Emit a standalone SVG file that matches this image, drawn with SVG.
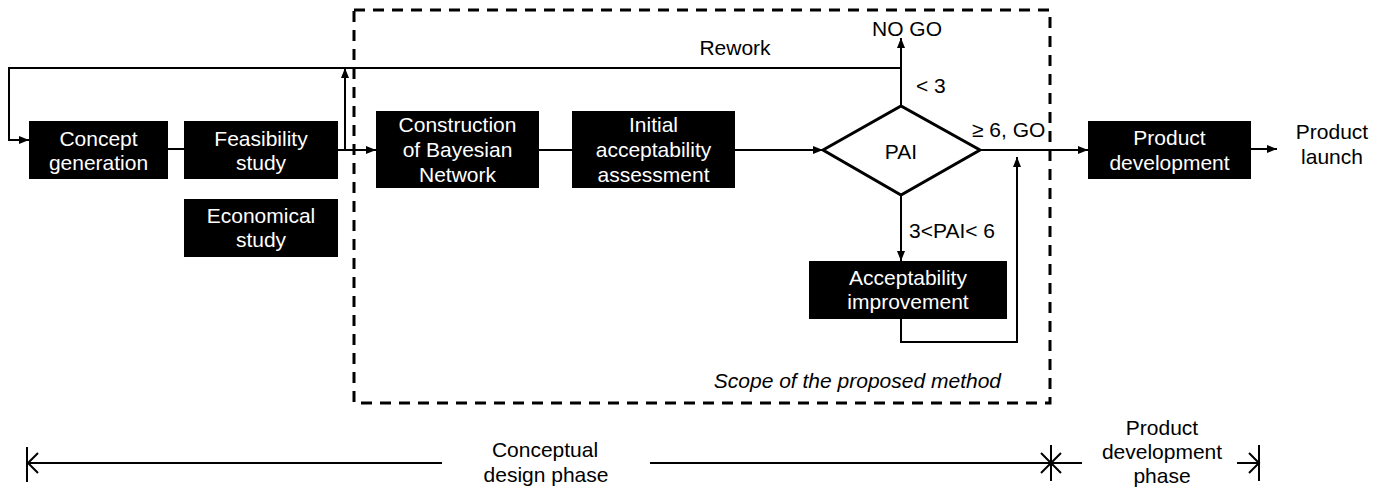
<svg xmlns="http://www.w3.org/2000/svg" width="1386" height="492" viewBox="0 0 1386 492">
<defs>
<marker id="arr" markerWidth="10" markerHeight="8" refX="10" refY="4" orient="auto" markerUnits="userSpaceOnUse">
<path d="M0,0 L10,4 L0,8 Z" fill="#000"/>
</marker>
<style>
.box{fill:#000;}
.bt{font-family:"Liberation Sans",Arial,sans-serif;font-size:21px;fill:#fff;text-anchor:middle;}
.t{font-family:"Liberation Sans",Arial,sans-serif;font-size:21px;fill:#000;}
.c{text-anchor:middle;}
.ln{fill:none;stroke:#000;stroke-width:2;}
.dim{fill:none;stroke:#000;stroke-width:2;}
</style>
</defs>
<rect width="1386" height="492" fill="#fff"/>

<g id="scope">
<rect x="354" y="10" width="696" height="393" fill="none" stroke="#000" stroke-width="3" stroke-dasharray="11,8"/>
<text class="t" x="1001" y="388" text-anchor="end" font-style="italic" font-size="21.5px">Scope of the proposed method</text>
</g>

<g id="connectors">
<path class="ln" d="M901,106 L901,38" marker-end="url(#arr)"/>
<path class="ln" d="M901,68 L9,68 L9,140 L29,140" marker-end="url(#arr)"/>
<path class="ln" d="M168,149 L184,149"/>
<path class="ln" d="M338,150 L376,150" marker-end="url(#arr)"/>
<path class="ln" d="M345,150 L345,68" marker-end="url(#arr)"/>
<path class="ln" d="M539,150 L572,150"/>
<path class="ln" d="M735,150 L823,150" marker-end="url(#arr)"/>
<path class="ln" d="M980,150 L1088,150" marker-end="url(#arr)"/>
<path class="ln" d="M901,195 L901,261" marker-end="url(#arr)"/>
<path class="ln" d="M901,319 L901,342 L1017,342 L1017,157" marker-end="url(#arr)"/>
<path class="ln" d="M1251,149 L1277,149" marker-end="url(#arr)"/>
<text class="t c" x="735" y="55">Rework</text>
<text class="t c" x="907" y="36">NO GO</text>
<text class="t" x="916" y="93">&lt; 3</text>
<text class="t" x="972" y="137">≥ 6, GO</text>
<text class="t" x="909" y="238">3&lt;PAI&lt; 6</text>
</g>

<g id="concept">
<rect class="box" x="29" y="121" width="139" height="58"/>
<text class="bt" x="98.5" y="146">Concept</text>
<text class="bt" x="98.5" y="170">generation</text>
</g>
<g id="feasibility">
<rect class="box" x="184" y="121" width="154" height="58"/>
<text class="bt" x="261" y="146">Feasibility</text>
<text class="bt" x="261" y="170">study</text>
</g>
<g id="economical">
<rect class="box" x="184" y="199" width="154" height="58"/>
<text class="bt" x="261" y="223">Economical</text>
<text class="bt" x="261" y="247">study</text>
</g>
<g id="construction">
<rect class="box" x="376" y="111" width="163" height="77"/>
<text class="bt" x="457.5" y="132">Construction</text>
<text class="bt" x="457.5" y="157">of Bayesian</text>
<text class="bt" x="457.5" y="182">Network</text>
</g>
<g id="initial">
<rect class="box" x="572" y="111" width="163" height="77"/>
<text class="bt" x="653.5" y="132">Initial</text>
<text class="bt" x="653.5" y="157">acceptability</text>
<text class="bt" x="653.5" y="182">assessment</text>
</g>
<g id="pai">
<polygon points="823,150 901,106 980,150 901,195" fill="#fff" stroke="#000" stroke-width="3"/>
<text class="t c" x="901" y="159">PAI</text>
</g>
<g id="improvement">
<rect class="box" x="809" y="261" width="198" height="58"/>
<text class="bt" x="908" y="285">Acceptability</text>
<text class="bt" x="908" y="309">improvement</text>
</g>
<g id="productdev">
<rect class="box" x="1088" y="121" width="163" height="58"/>
<text class="bt" x="1169.5" y="145">Product</text>
<text class="bt" x="1169.5" y="170">development</text>
</g>
<g id="launch">
<text class="t c" x="1332" y="139">Product</text>
<text class="t c" x="1332" y="164">launch</text>
</g>

<g id="phases">
<path class="dim" d="M27,447 L27,482"/>
<path class="dim" d="M27,463 L442,463"/>
<path class="dim" d="M38,453 L28,463 L38,473"/>
<text class="t c" x="545" y="457">Conceptual</text>
<text class="t c" x="546" y="482">design phase</text>
<path class="dim" d="M650,463 L1051,463"/>
<path class="dim" d="M1041,453 L1051,463 L1041,473"/>
<path class="dim" d="M1051,445 L1051,481"/>
<path class="dim" d="M1051,463 L1082,463"/>
<path class="dim" d="M1061,453 L1051,463 L1061,473"/>
<text class="t c" x="1162" y="435">Product</text>
<text class="t c" x="1162" y="459">development</text>
<text class="t c" x="1162" y="483">phase</text>
<path class="dim" d="M1237,463 L1259,463"/>
<path class="dim" d="M1249,453 L1259,463 L1249,473"/>
<path class="dim" d="M1259,445 L1259,481"/>
</g>
</svg>
